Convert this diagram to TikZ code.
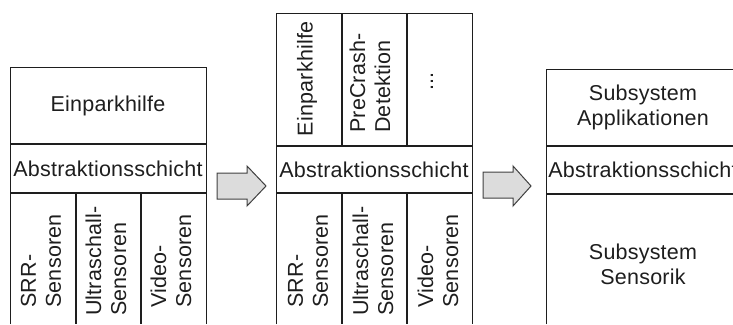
\documentclass[tikz,border=0pt]{standalone}
\usepackage{fontspec}
\setmainfont{Liberation Sans}[LetterSpace=1]
\definecolor{ink}{HTML}{1E1E1E}
\definecolor{arrowgray}{HTML}{DCDCDC}
\begin{document}
\begin{tikzpicture}[x=1pt,y=-1pt,
  lbl/.style={inner sep=0pt, font=\fontsize{21.5}{25}\selectfont, text=ink, align=center},
  vlbl/.style={lbl, rotate=90, align=left},
  frame/.style={draw=ink, line width=1pt},
  divider/.style={draw=ink, line width=1.6pt},
  blockarrow/.style={draw=ink!85, line width=1pt, fill=arrowgray, line join=miter}]
\clip (0,0) rectangle (733,324);

% --- left stack: single application ---
\draw[frame] (10,324) -- (10,67) -- (206,67) -- (206,324);
\draw[divider] (10,144) -- (206,144);
\draw[divider] (10,193) -- (206,193);
\draw[divider] (76,193) -- (76,324);
\draw[divider] (141,193) -- (141,324);
\node[lbl] (a-app) at (108,105.5) {Einparkhilfe};
\node[lbl] (a-abs) at (108,168.5) {Abstraktionsschicht};
\node[vlbl] (a-s1) at (41,261) {SRR-\\Sensoren};
\node[vlbl] (a-s2) at (106,261) {Ultraschall-\\Sensoren};
\node[vlbl] (a-s3) at (171,261) {Video-\\Sensoren};

% --- middle stack: several applications ---
\draw[frame] (276,324) -- (276,13) -- (472,13) -- (472,324);
\draw[divider] (276,146) -- (472,146);
\draw[divider] (276,193) -- (472,193);
\draw[divider] (342,13) -- (342,146);
\draw[divider] (407,13) -- (407,146);
\draw[divider] (342,193) -- (342,324);
\draw[divider] (407,193) -- (407,324);
\node[vlbl] (b-app1) at (307,79) {Einparkhilfe};
\node[vlbl] (b-app2) at (370,83) {PreCrash-\\Detektion};
\node[vlbl] (b-app3) at (432,81.5) {...};
\node[lbl] (b-abs) at (374,169.5) {Abstraktionsschicht};
\node[vlbl] (b-s1) at (308,261) {SRR-\\Sensoren};
\node[vlbl] (b-s2) at (373,261) {Ultraschall-\\Sensoren};
\node[vlbl] (b-s3) at (438,261) {Video-\\Sensoren};

% --- right stack: subsystems ---
\draw[frame] (546,324) -- (546,69) -- (740,69) -- (740,324);
\draw[divider] (546,146) -- (740,146);
\draw[divider] (546,194) -- (740,194);
\node[lbl] (c-app) at (643,107) {Subsystem\\Applikationen};
\node[lbl] (c-abs) at (643,170) {Abstraktionsschicht};
\node[lbl] (c-sen) at (643,264) {Subsystem\\Sensorik};

% --- block arrows between the stacks ---
\draw[blockarrow] (217,173) -- (247,173) -- (247,166) -- (266,186)
  -- (247,206) -- (247,199) -- (217,199) -- cycle;
\draw[blockarrow] (483,172) -- (513,172) -- (513,166) -- (531,186)
  -- (513,206) -- (513,198) -- (483,198) -- cycle;
\end{tikzpicture}
\end{document}
